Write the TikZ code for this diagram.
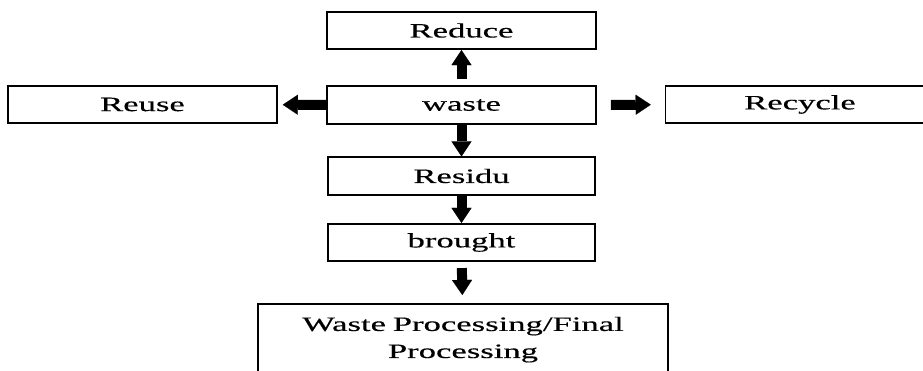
\documentclass[tikz,border=0pt]{standalone}
\usepackage{fontspec}
\setmainfont[FakeStretch=1.7,FakeBold=0.35]{Liberation Serif}
\usetikzlibrary{arrows.meta}
\begin{document}
\begin{tikzpicture}[x=0.02cm,y=-0.02cm,
        box/.style={draw,line width=0.9pt,minimum width=5.38cm,minimum height=0.75cm,inner sep=0pt,font=\fontsize{11.6}{15.4}\selectfont},
        blk/.style={line width=0.2cm,-{Triangle[length=0.3cm,width=0.4cm,line width=0.01pt]}}]
        \useasboundingbox (0,0) rectangle (923,370);
        \node[box] (reduce) at (461.5,30.5) {Reduce};
        \node[box] (waste) at (461.5,105) {waste};
        \node[box] (reuse) at (142.5,104.5) {Reuse};
        \node[box] (recycle) at (800,104.5) {Recycle};
        \node[box,minimum width=5.34cm] (residu) at (461.5,176) {Residu};
        \node[box,minimum width=5.34cm] (brought) at (461.5,242.5) {brought};
        \node[box,anchor=north,minimum width=8.2cm,text width=7.8cm,align=center,inner ysep=0.26cm] (final) at (463,303) {Waste Processing/Final\\Processing};
        \draw[blk,shorten <=0.12cm] (waste) -- (reduce);
        \draw[blk,shorten >=0.1cm] (waste) -- (reuse);
        \draw[blk,shorten <=0.28cm,shorten >=0.28cm] (waste) -- (recycle);
        \draw[blk] (waste) -- (residu);
        \draw[blk] (residu) -- (brought);
        \draw[blk,shorten <=0.12cm,shorten >=0.16cm] (brought) -- (final);
    \end{tikzpicture}
\end{document}
